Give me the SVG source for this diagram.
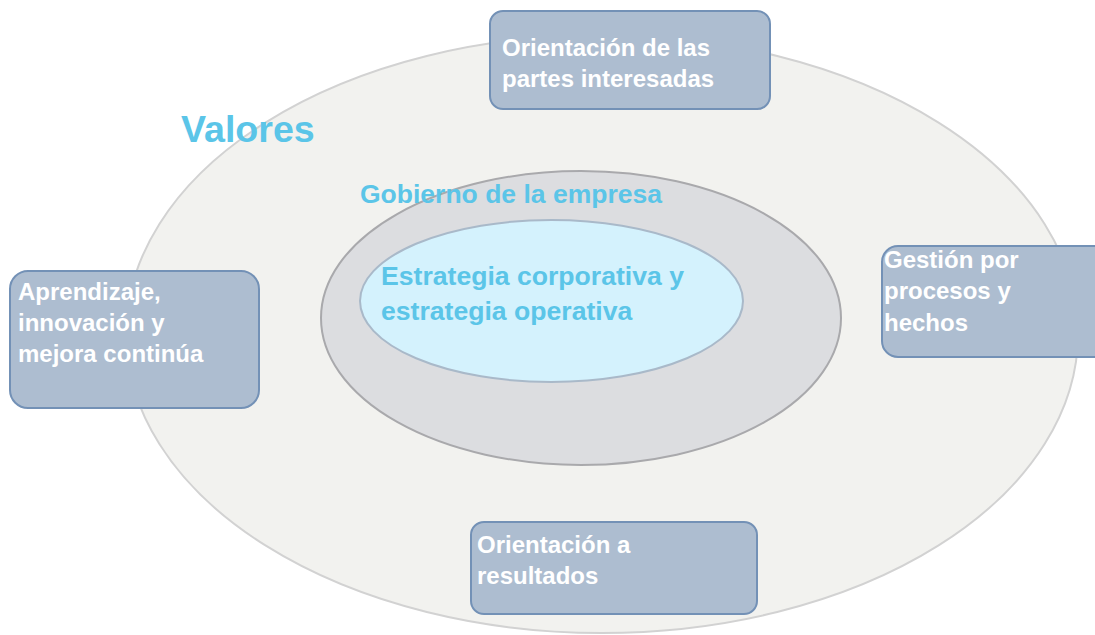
<svg xmlns="http://www.w3.org/2000/svg" width="1095" height="635" viewBox="0 0 1095 635">
<style>
.box{fill:#adbdd0;stroke:#7391b6;stroke-width:2}
.bt{font-family:"Liberation Sans",Arial,sans-serif;font-weight:bold;font-size:24px;fill:#ffffff}
.blue{font-family:"Liberation Sans",Arial,sans-serif;font-weight:bold;fill:#5bc5e8}
</style>
<rect width="1095" height="635" fill="#ffffff"/>
<g id="valores">
<ellipse cx="602" cy="334" rx="476" ry="299" fill="#f2f2ef" stroke="#d2d2d2" stroke-width="2"/>
<text class="blue" x="181" y="142" font-size="37.6">Valores</text>
</g>
<g id="gobierno">
<ellipse cx="581" cy="318" rx="260" ry="147" fill="#dcdde0" stroke="#a9a9ac" stroke-width="2"/>
</g>
<g id="estrategia">
<ellipse cx="551.5" cy="301" rx="191.5" ry="81" fill="#d4f2fd" stroke="#a9b9c9" stroke-width="2"/>
<text class="blue" font-size="26.6"><tspan x="381" y="285">Estrategia corporativa y</tspan><tspan x="381" y="320">estrategia operativa</tspan></text>
</g>
<text class="blue" x="360" y="203" font-size="26.5">Gobierno de la empresa</text>
<g id="partes">
<rect class="box" x="490" y="11" width="280" height="98" rx="13"/>
<text class="bt"><tspan x="502" y="56">Orientación de las</tspan><tspan x="502" y="87">partes interesadas</tspan></text>
</g>
<g id="aprendizaje">
<rect class="box" x="10" y="271" width="249" height="137" rx="18"/>
<text class="bt"><tspan x="18" y="300">Aprendizaje,</tspan><tspan x="18" y="331">innovación y</tspan><tspan x="18" y="362">mejora continúa</tspan></text>
</g>
<g id="gestion">
<rect class="box" x="882" y="246" width="230" height="111" rx="16"/>
<text class="bt"><tspan x="884" y="268">Gestión por</tspan><tspan x="884" y="299">procesos y</tspan><tspan x="884" y="331">hechos</tspan></text>
</g>
<g id="resultados">
<rect class="box" x="471" y="522" width="286" height="92" rx="13"/>
<text class="bt"><tspan x="477" y="553">Orientación a</tspan><tspan x="477" y="584">resultados</tspan></text>
</g>
<g id="connectors"/>
</svg>
